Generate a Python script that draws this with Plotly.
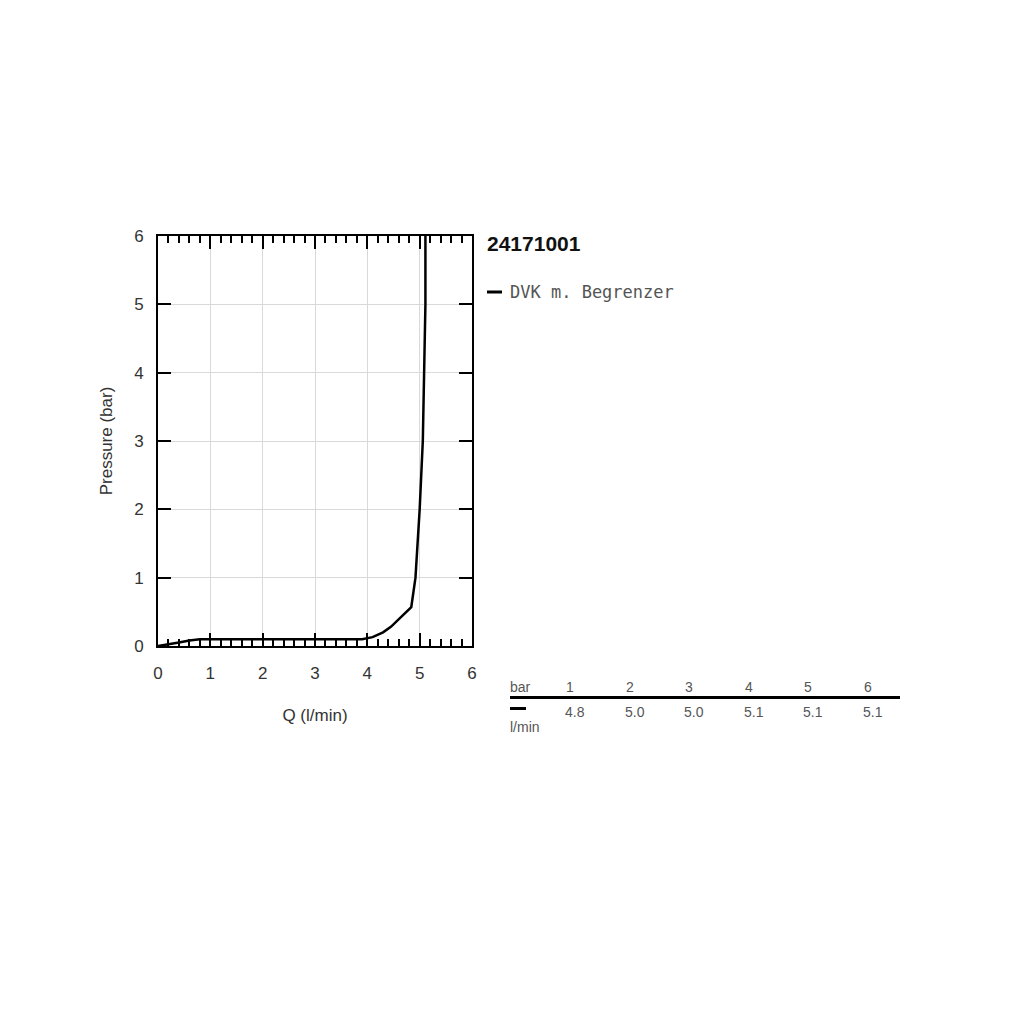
import plotly.graph_objects as go

# Flow curve
Q_FLOW = [0, 0.2, 0.4, 0.6, 0.8, 1.0, 2.0, 3.0, 3.9, 4.1, 4.3, 4.45, 4.63, 4.84, 4.92, 5.0, 5.06, 5.09, 5.11, 5.11]
PRESSURE = [0, 0.02, 0.05, 0.08, 0.1, 0.1, 0.1, 0.1, 0.1, 0.13, 0.2, 0.28, 0.41, 0.57, 1.0, 2.0, 3.0, 4.0, 5.0, 6.0]

# Table below the chart
TABLE_BAR = ["1", "2", "3", "4", "5", "6"]
TABLE_FLOW = ["4.8", "5.0", "5.0", "5.1", "5.1", "5.1"]

TITLE = "24171001"
SERIES_NAME = "DVK m. Begrenzer"

W = H = 1024
OFF = 8  # page body margin
TEXT = "#333333"
GREY = "#555555"
FONT = "Liberation Sans, Arial, sans-serif"
MONO = "DejaVu Sans Mono, Liberation Mono, monospace"


def px(x):
    return (x - OFF) / W


def py(y):
    return 1 - (y - OFF) / H


fig = go.Figure(go.Scatter(
    x=Q_FLOW, y=PRESSURE, mode="lines",
    line=dict(color="black", width=2.5),
    name=SERIES_NAME, showlegend=False,
))

axis_common = dict(
    range=[0, 6], dtick=1, showgrid=True, gridcolor="#d9d9d9", gridwidth=1,
    showline=True, linecolor="black", linewidth=2, mirror="ticks",
    ticks="inside", ticklen=13, tickwidth=2, tickcolor="black",
    tickfont=dict(size=17, color=TEXT, family=FONT), zeroline=False,
    fixedrange=True, automargin=False,
)

fig.update_xaxes(
    **axis_common,
    domain=[px(158), px(472)],
    minor=dict(dtick=0.2, ticks="inside", ticklen=7, tickwidth=1.5, tickcolor="black", showgrid=False),
    ticklabelstandoff=11,
    title=dict(text="Q (l/min)", font=dict(size=17, color=TEXT, family=FONT), standoff=27),
)
fig.update_yaxes(
    **axis_common,
    domain=[py(646), py(236)],
    ticklabelstandoff=9,
    title=dict(text="Pressure (bar)", font=dict(size=17, color=TEXT, family=FONT), standoff=17),
)

annotations = [
    dict(text=f"<b>{TITLE}</b>", x=px(485), y=py(243), xanchor="left", yanchor="middle",
         font=dict(size=21, color="#111111", family=FONT)),
    dict(text=SERIES_NAME, x=px(508), y=py(292), xanchor="left", yanchor="middle",
         font=dict(size=17, color=GREY, family=MONO)),
    dict(text="bar", x=px(508), y=py(687), xanchor="left", yanchor="middle",
         font=dict(size=14, color=GREY, family=FONT)),
    dict(text="l/min", x=px(508), y=py(727), xanchor="left", yanchor="middle",
         font=dict(size=14, color=GREY, family=FONT)),
]
for i, (b, f) in enumerate(zip(TABLE_BAR, TABLE_FLOW)):
    annotations.append(dict(text=b, x=px(564 + 59.6 * i), y=py(687), xanchor="left", yanchor="middle",
                            font=dict(size=14, color=GREY, family=FONT)))
    annotations.append(dict(text=f, x=px(563 + 59.6 * i), y=py(712), xanchor="left", yanchor="middle",
                            font=dict(size=14, color=GREY, family=FONT)))
for a in annotations:
    a.update(xref="paper", yref="paper", showarrow=False)

shapes = [
    # legend sample
    dict(type="line", x0=px(487), x1=px(502), y0=py(292), y1=py(292), line=dict(color="black", width=3)),
    # table rule
    dict(type="line", x0=px(510), x1=px(900), y0=py(697.5), y1=py(697.5), line=dict(color="black", width=3)),
    # table series marker
    dict(type="line", x0=px(510), x1=px(526), y0=py(708.5), y1=py(708.5), line=dict(color="black", width=3)),
]
for s in shapes:
    s.update(xref="paper", yref="paper")

fig.update_layout(
    width=W, height=H,
    margin=dict(l=0, r=0, t=0, b=0, autoexpand=False),
    paper_bgcolor="white", plot_bgcolor="white",
    font=dict(family=FONT, color=TEXT),
    annotations=annotations, shapes=shapes,
    showlegend=False,
)

fig.write_html("out.html")
